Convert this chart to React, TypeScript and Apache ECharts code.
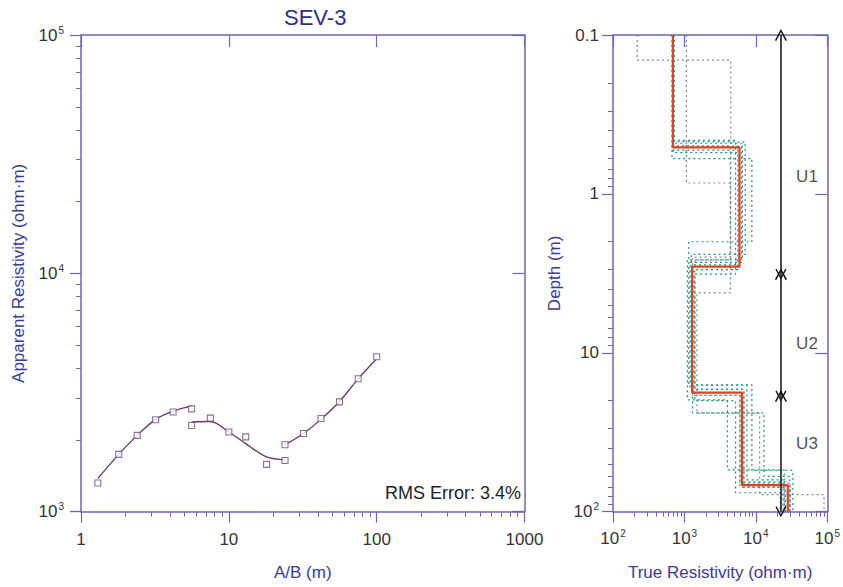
import React, { useEffect, useRef } from 'react';
import * as echarts from 'echarts';

// ---- Left panel: sounding curve ----
const abSeg1 = [1.3, 1.8, 2.4, 3.2, 4.2, 5.6];
const abSeg2 = [5.6, 7.5, 10, 13, 18, 24];
const abSeg3 = [24, 32, 42, 56, 75, 100];
const rhoObs1 = [1320, 1740, 2090, 2430, 2620, 2700];
const rhoObs2 = [2300, 2470, 2160, 2060, 1580, 1640];
const rhoObs3 = [1910, 2130, 2460, 2890, 3610, 4470];
const rhoCalc1 = [1380, 1740, 2090, 2440, 2640, 2780];
const rhoCalc2 = [2380, 2390, 2160, 1930, 1700, 1655];
const rhoCalc3 = [1910, 2130, 2440, 2900, 3610, 4380];
const rmsText = 'RMS Error: 3.4%';

// ---- Right panel: layered model ----
const bestRes = [690, 5900, 1280, 6400, 28000];
const bestDepth = [0.51, 2.87, 17.8, 68];
const eqRes = [
  [218, 4450, 1400, 6800, 25000],
  [1065, 4400, 1300, 6000, 30000],
  [700, 6300, 1200, 6800, 26000],
  [680, 5600, 1350, 6000, 30000],
  [720, 7100, 1250, 7500, 24000],
  [670, 8800, 1150, 8800, 33000],
  [700, 5200, 1400, 5200, 22000],
  [690, 4400, 1500, 11300, 90000],
  [690, 5900, 1300, 13000, 30000],
  [690, 6500, 1100, 4000, 25000],
];
const eqDepth = [
  [0.144, 2.6, 17, 70],
  [0.854, 2.5, 18.5, 66],
  [0.48, 2.7, 17, 65],
  [0.53, 3.0, 18.5, 70],
  [0.47, 2.4, 16, 63],
  [0.6, 2.0, 15.9, 55],
  [0.46, 3.2, 20, 76],
  [0.5, 4.2, 24, 78],
  [0.55, 2.8, 23.9, 60],
  [0.5, 2.6, 19.8, 54.6],
];
const eqGray = [true, true, false, false, false, false, false, true, false, false];
const unitNames = ['U1', 'U2', 'U3'];
const unitBounds = [0.1, 3.2, 18.7, 100];
const unitLabelDepth = [0.78, 8.7, 37];
const unitArrowRes = 22450;
const unitLabelRes = 52000;

const AXIS = '#6a67b6';
const NAME = '#3b3996';
const LABEL = '#333333';
const FONT = '"Liberation Sans", Arial, sans-serif';
const MAJOR = 11;
const MINOR = 5;

function steps(res: number[], dep: number[]) {
  const pts: number[][] = [];
  let d0 = 0.1;
  for (let i = 0; i < res.length; i++) {
    const d1 = i < dep.length ? dep[i] : 100;
    pts.push([res[i], d0]);
    pts.push([res[i], d1]);
    d0 = d1;
  }
  return pts;
}

const zip = (a: number[], b: number[]) => a.map((v, i) => [v, b[i]]);
const expOf = (v: number) => Math.round(Math.log10(v));
const rich = {
  b: { fontSize: 17, color: LABEL, fontFamily: FONT, lineHeight: 20 },
  s: { fontSize: 10, color: LABEL, fontFamily: FONT, verticalAlign: 'top', lineHeight: 12, padding: [0, 0, 0, 1] },
};
const powLabel = (v: number) => `{b|10}{s|${expOf(v)}}`;

function mainAxis(extra: any) {
  return {
    type: 'log',
    logBase: 10,
    axisLine: { show: true, onZero: false, lineStyle: { color: AXIS, width: 1.5 } },
    axisTick: { show: true, inside: false, length: MAJOR, lineStyle: { color: AXIS, width: 1.2 } },
    minorTick: { show: true, splitNumber: 9, length: MINOR, lineStyle: { color: AXIS, width: 1 } },
    splitLine: { show: false },
    minorSplitLine: { show: false },
    nameLocation: 'middle',
    nameTextStyle: { color: NAME, fontSize: 17, fontFamily: FONT },
    ...extra,
  };
}
function mirrorAxis(extra: any) {
  return {
    type: 'log',
    logBase: 10,
    axisLine: { show: true, onZero: false, lineStyle: { color: AXIS, width: 1.5 } },
    axisTick: { show: true, inside: true, length: 12, lineStyle: { color: AXIS, width: 1.2 } },
    axisLabel: { show: false },
    splitLine: { show: false },
    ...extra,
  };
}

const chevron = 'path://M0,9 L5,0 L10,9 L8.9,9.7 L5,2.4 L1.1,9.7 Z';

export default function App() {
  const ref = useRef<HTMLDivElement>(null);
  useEffect(() => {
    const chart = echarts.init(ref.current!, undefined, { renderer: 'svg' });
    const eqSeries = eqRes.map((r, i) => ({
      type: 'line',
      xAxisIndex: 2,
      yAxisIndex: 2,
      clip: false,
      data: steps(r, eqDepth[i]),
      showSymbol: false,
      symbol: 'none',
      lineStyle: { color: eqGray[i] ? '#7d8c8c' : '#1f9090', width: 1.2, type: [2, 3] },
      z: 2,
    }));
    const option: any = {
      animation: false,
      backgroundColor: '#ffffff',
      textStyle: { fontFamily: FONT },
      title: {
        text: 'SEV-3',
        left: 284,
        top: 6,
        padding: 0,
        textStyle: { color: '#2e2c8c', fontSize: 22, fontWeight: 'normal', fontFamily: FONT },
      },
      grid: [
        { left: 81, top: 35, width: 443.5, height: 476.7 },
        { left: 613, top: 35, width: 223, height: 476.7 },
      ],
      xAxis: [
        mainAxis({
          gridIndex: 0, min: 1, max: 1000, position: 'bottom',
          name: 'A/B (m)', nameGap: 52,
          axisLabel: { color: LABEL, fontSize: 17, margin: 19, fontFamily: FONT, formatter: (v: number) => String(v) },
        }),
        mirrorAxis({ gridIndex: 0, min: 1, max: 1000, position: 'top' }),
        mainAxis({
          gridIndex: 1, min: 100, max: 100000, position: 'bottom',
          name: 'True Resistivity (ohm·m)', nameGap: 52,
          axisLabel: { margin: 17, formatter: powLabel, rich },
        }),
        mirrorAxis({ gridIndex: 1, min: 100, max: 100000, position: 'top' }),
      ],
      yAxis: [
        mainAxis({
          gridIndex: 0, min: 1000, max: 100000, position: 'left',
          name: 'Apparent Resistivity (ohm·m)', nameGap: 54,
          axisLabel: { margin: 17, formatter: powLabel, rich },
        }),
        mirrorAxis({ gridIndex: 0, min: 1000, max: 100000, position: 'right' }),
        mainAxis({
          gridIndex: 1, min: 0.1, max: 100, position: 'left', inverse: true,
          name: 'Depth (m)', nameGap: 50,
          axisLabel: {
            margin: 14,
            formatter: (v: number) => {
              const e = expOf(v);
              if (e === -1) return '{b|0.1}';
              if (e === 0) return '{b|1}';
              if (e === 1) return '{b|10}';
              return powLabel(v);
            },
            rich,
          },
        }),
        mirrorAxis({ gridIndex: 1, min: 0.1, max: 100, position: 'right', inverse: true }),
      ],
      graphic: [
        {
          type: 'text',
          right: 843 - 521,
          top: 484,
          style: { text: rmsText, fill: '#1e1e1e', font: `18px ${FONT}` },
        },
      ],
      series: [
        ...[rhoCalc1, rhoCalc2, rhoCalc3].map((c, i) => ({
          type: 'line',
          xAxisIndex: 0,
          yAxisIndex: 0,
          clip: false,
          data: zip([abSeg1, abSeg2, abSeg3][i], c),
          smooth: 0.35,
          symbol: 'none',
          lineStyle: { color: '#6a3468', width: 1.3 },
          z: 2,
        })),
        {
          type: 'scatter',
          xAxisIndex: 0,
          yAxisIndex: 0,
          clip: false,
          data: [...zip(abSeg1, rhoObs1), ...zip(abSeg2, rhoObs2), ...zip(abSeg3, rhoObs3)],
          symbol: 'rect',
          symbolSize: 6,
          itemStyle: { color: '#ffffff', borderColor: '#6e4c7e', borderWidth: 1.1 },
          z: 3,
        },
        ...eqSeries,
        {
          type: 'line',
          xAxisIndex: 2,
          yAxisIndex: 2,
          clip: false,
          data: steps(bestRes, bestDepth),
          symbol: 'none',
          lineStyle: { color: '#e4411d', width: 2.2 },
          z: 4,
        },
        {
          type: 'lines',
          coordinateSystem: 'cartesian2d',
          xAxisIndex: 2,
          yAxisIndex: 2,
          clip: false,
          symbol: [chevron, chevron],
          symbolSize: [12, 11],
          lineStyle: { color: '#111111', width: 1.5, opacity: 1 },
          itemStyle: { color: '#111111' },
          data: unitNames.map((n, i) => ({
            coords: [[unitArrowRes, unitBounds[i]], [unitArrowRes, unitBounds[i + 1]]],
          })),
          z: 5,
        },
        {
          type: 'scatter',
          xAxisIndex: 2,
          yAxisIndex: 2,
          clip: false,
          symbolSize: 0,
          data: unitNames.map((n, i) => ({ name: n, value: [unitLabelRes, unitLabelDepth[i]] })),
          label: {
            show: true,
            position: 'inside',
            formatter: '{b}',
            color: '#1e1e1e',
            fontSize: 17,
            fontFamily: FONT,
          },
          z: 5,
        },
      ],
    };
    chart.setOption(option);
    return () => chart.dispose();
  }, []);
  return (
    <div
      ref={ref}
      style={{ position: 'fixed', left: 0, top: 0, width: 843, height: 587, background: '#fff' }}
    />
  );
}
